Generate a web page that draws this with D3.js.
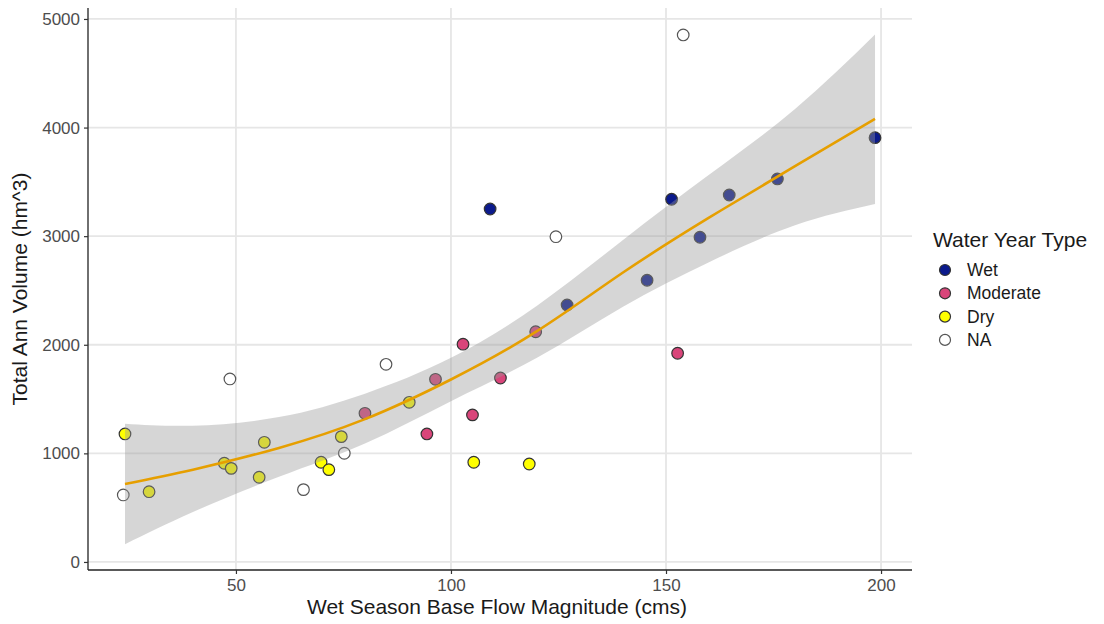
<!DOCTYPE html>
<html>
<head>
<meta charset="utf-8">
<script src="https://cdn.jsdelivr.net/npm/d3@7"></script>
<style>
  body { margin: 0; background: #ffffff; }
  text { font-family: "Liberation Sans", Arial, sans-serif; }
</style>
</head>
<body>
<svg id="chart" width="1104" height="624"></svg>
<script>
// Base flow vs annual volume, one entry per water year
var flowX = [24.2, 23.8, 29.8, 47.3, 48.9, 56.6, 55.4, 65.7, 69.8, 71.6, 74.5, 75.2,
             80.0, 84.9, 90.3, 94.4, 96.4, 102.8, 105.0, 105.3, 111.5, 118.2, 119.7,
             109.1, 124.4, 127.0, 145.6, 151.3, 152.7, 157.9, 164.7, 175.9, 198.6, 154.0, 48.6];
var volumeY = [1179, 617, 647, 909, 862, 1102, 780, 666, 918, 850, 1154, 1001,
               1369, 1820, 1470, 1179, 1682, 2005, 1354, 918, 1694, 902, 2120,
               3250, 2995, 2366, 2594, 3340, 1922, 2990, 3379, 3527, 3907, 4853, 1685];
var waterType = ["Dry", "NA", "Dry", "Dry", "Dry", "Dry", "Dry", "NA", "Dry", "Dry", "Dry", "NA",
                 "Moderate", "NA", "Dry", "Moderate", "Moderate", "Moderate", "Moderate", "Dry", "Moderate", "Dry", "Moderate",
                 "Wet", "NA", "Wet", "Wet", "Wet", "Moderate", "Wet", "Wet", "Wet", "Wet", "NA", "NA"];

// loess fit and its confidence band
var smoothX   = [24.2, 40, 60, 80, 100, 120, 140, 160, 180, 198.6];
var smoothFit = [718, 850, 1050, 1315, 1680, 2125, 2665, 3170, 3645, 4080];
var smoothLo  = [163, 460, 784, 1090, 1480, 1880, 2350, 2760, 3100, 3296];
var smoothHi  = [1273, 1255, 1334, 1550, 1880, 2360, 2965, 3565, 4170, 4856];

var typeNames = ["Wet", "Moderate", "Dry", "NA"];
var typeColors = ["#0b1a8c", "#d9457a", "#ffff00", "#ffffff"];

var xTicks = [50, 100, 150, 200];
var yTicks = [0, 1000, 2000, 3000, 4000, 5000];

var svg = d3.select("#chart");

var panelLeft = 88, panelRight = 912, panelTop = 8, panelBottom = 570;

var x = d3.scaleLinear().domain([15.6, 207.2]).range([panelLeft, panelRight]);
var y = d3.scaleLinear().domain([-74, 5101]).range([panelBottom, panelTop]);
var fill = d3.scaleOrdinal().domain(typeNames).range(typeColors);

// grid
svg.append("g").selectAll("line")
  .data(xTicks)
  .enter().append("line")
  .attr("x1", d => x(d)).attr("x2", d => x(d))
  .attr("y1", panelTop).attr("y2", panelBottom)
  .attr("stroke", "#e6e6e6").attr("stroke-width", 1.8);

svg.append("g").selectAll("line")
  .data(yTicks)
  .enter().append("line")
  .attr("x1", panelLeft).attr("x2", panelRight)
  .attr("y1", d => y(d)).attr("y2", d => y(d))
  .attr("stroke", "#e6e6e6").attr("stroke-width", 1.8);

// points go first, the band is laid over them like ggplot does
var points = d3.range(flowX.length);
svg.append("g").selectAll("circle")
  .data(points)
  .enter().append("circle")
  .attr("cx", i => x(flowX[i]))
  .attr("cy", i => y(volumeY[i]))
  .attr("r", 5.8)
  .attr("fill", i => fill(waterType[i]))
  .attr("stroke", i => waterType[i] == "NA" ? "#555555" : "#333333")
  .attr("stroke-width", 1.2);

var band = d3.area()
  .x(i => x(smoothX[i]))
  .y0(i => y(smoothLo[i]))
  .y1(i => y(smoothHi[i]))
  .curve(d3.curveNatural);

svg.append("path")
  .datum(d3.range(smoothX.length))
  .attr("d", band)
  .attr("fill", "#999999")
  .attr("fill-opacity", 0.4);

var fitLine = d3.line()
  .x(i => x(smoothX[i]))
  .y(i => y(smoothFit[i]))
  .curve(d3.curveNatural);

svg.append("path")
  .datum(d3.range(smoothX.length))
  .attr("d", fitLine)
  .attr("fill", "none")
  .attr("stroke", "#E69F00")
  .attr("stroke-width", 2.6);

// axes
var xAxis = svg.append("g")
  .attr("transform", "translate(0," + panelBottom + ")")
  .call(d3.axisBottom(x).tickValues(xTicks).tickSize(4).tickPadding(5));
var yAxis = svg.append("g")
  .attr("transform", "translate(" + panelLeft + ",0)")
  .call(d3.axisLeft(y).tickValues(yTicks).tickFormat(d3.format("d")).tickSize(4).tickPadding(4));

[xAxis, yAxis].forEach(function(ax)
{
    ax.select(".domain").attr("stroke", "#222222").attr("stroke-width", 1.3);
    ax.selectAll(".tick line").attr("stroke", "#333333").attr("stroke-width", 1.2);
    ax.selectAll(".tick text")
      .attr("fill", "#4d4d4d")
      .style("font-size", "17px")
      .style("font-family", "'Liberation Sans', Arial, sans-serif");
});
// ggplot axis lines stop at the panel edge
xAxis.select(".domain").attr("d", "M" + panelLeft + ",0H" + panelRight);
yAxis.select(".domain").attr("d", "M0," + panelBottom + "V" + panelTop);

svg.append("text")
  .attr("x", (panelLeft + panelRight) / 2 - 3)
  .attr("y", 614)
  .attr("text-anchor", "middle")
  .attr("fill", "#1a1a1a")
  .style("font-size", "21px")
  .text("Wet Season Base Flow Magnitude (cms)");

svg.append("text")
  .attr("transform", "translate(27," + 289 + ") rotate(-90)")
  .attr("text-anchor", "middle")
  .attr("fill", "#1a1a1a")
  .style("font-size", "21px")
  .text("Total Ann Volume (hm^3)");

// legend
var legend = svg.append("g").attr("transform", "translate(933,0)");
legend.append("text")
  .attr("x", 0).attr("y", 247)
  .attr("fill", "#1a1a1a")
  .style("font-size", "21px")
  .text("Water Year Type");

var keys = legend.selectAll("g.key")
  .data(typeNames)
  .enter().append("g")
  .attr("class", "key")
  .attr("transform", (d, i) => "translate(0," + (270 + i * 23.3) + ")");

keys.append("circle")
  .attr("cx", 12).attr("cy", 0).attr("r", 5.5)
  .attr("fill", d => fill(d))
  .attr("stroke", d => d == "NA" ? "#555555" : "#333333")
  .attr("stroke-width", 1.2);

keys.append("text")
  .attr("x", 34).attr("y", 6)
  .attr("fill", "#1a1a1a")
  .style("font-size", "17.5px")
  .text(d => d);
</script>
</body>
</html>
